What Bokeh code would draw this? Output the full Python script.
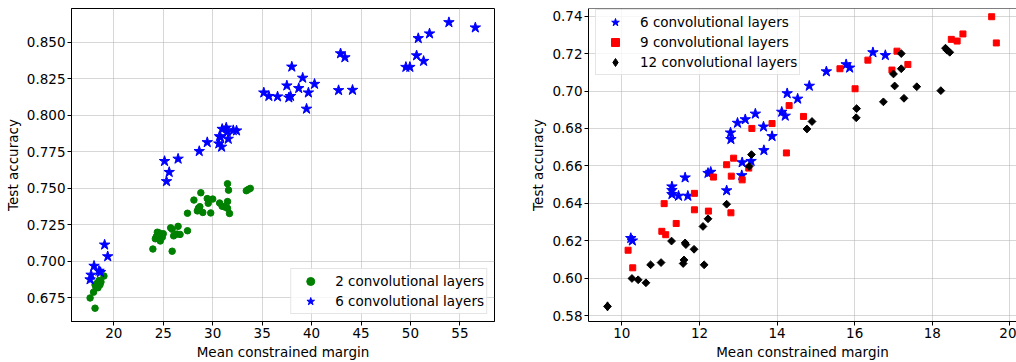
import numpy as np
from bokeh.plotting import figure
from bokeh.layouts import row
from bokeh.models import Range1d, FixedTicker, PrintfTickFormatter, Span
from bokeh.embed import file_html
from bokeh.resources import INLINE

# ---------------- data: left panel ----------------
l2_x = [17.6, 18.1, 17.95, 18.1, 18.2, 18.4, 18.6, 18.7, 19.0, 18.5, 18.3,
        23.95, 25.9, 24.2, 24.4, 24.55, 24.7, 24.9, 25.0, 25.75, 25.9, 26.05, 26.4, 26.5, 26.7, 27.45, 24.3, 24.6,
        27.45, 28.1, 28.8, 28.45, 28.55, 28.7, 29.0, 29.45, 29.55, 30.0, 29.8, 30.7, 30.95, 31.2, 31.5, 31.6,
        31.5, 31.5, 31.7, 33.4, 33.6, 33.8]
l2_y = [0.675, 0.668, 0.679, 0.684, 0.682, 0.682, 0.684, 0.686, 0.690, 0.687, 0.685,
        0.7085, 0.707, 0.7155, 0.720, 0.7175, 0.714, 0.7165, 0.719, 0.723, 0.722, 0.7175, 0.7187, 0.724, 0.7185, 0.721, 0.717, 0.7195,
        0.733, 0.742, 0.747, 0.7346, 0.7364, 0.7375, 0.7335, 0.743, 0.7398, 0.7427, 0.7332, 0.740, 0.7378, 0.7373, 0.7532, 0.7488,
        0.741, 0.7364, 0.7328, 0.7484, 0.7493, 0.750]

l6_x = [17.6, 17.7, 18.0, 18.5, 18.65, 19.07, 19.38, 25.13, 25.6, 25.33, 26.5, 28.64, 29.45, 30.62, 30.69, 30.79,
        30.96, 31.37, 31.47, 30.9, 31.57, 32.08, 32.41, 35.17, 35.68, 36.56, 37.5, 37.7, 37.87, 38.0, 38.7, 39.1,
        39.49, 39.68, 40.3, 42.73, 44.14, 42.93, 43.37, 49.54, 49.94, 50.62, 51.33, 50.79, 51.93, 53.89, 56.56]
l6_y = [0.6876, 0.6908, 0.6969, 0.6935, 0.6926, 0.7114, 0.7034, 0.7686, 0.7611, 0.7548, 0.7702, 0.7754, 0.7815, 0.7806, 0.7856, 0.7849,
        0.7906, 0.7915, 0.7886, 0.7784, 0.7838, 0.7897, 0.7895, 0.8155, 0.8131, 0.8128, 0.8203, 0.8121, 0.8131, 0.8332, 0.8185, 0.8256,
        0.8044, 0.8155, 0.8214, 0.8171, 0.8173, 0.8423, 0.8396, 0.8330, 0.8330, 0.8409, 0.8371, 0.8527, 0.8559, 0.8636, 0.8600]

# ---------------- data: right panel ----------------
r6_x = [10.23, 10.27, 11.29, 11.29, 11.29, 11.46, 11.70, 11.63, 12.22, 12.29, 12.70, 13.09, 13.10, 13.33, 12.80, 12.81,
        12.98, 13.18, 13.44, 13.65, 13.87, 13.66, 14.12, 14.21, 14.26, 14.53, 14.83, 15.27, 15.78, 15.87, 16.47, 16.79]
r6_y = [0.6213, 0.6200, 0.6489, 0.6470, 0.6448, 0.6439, 0.6439, 0.6537, 0.6561, 0.6567, 0.6468, 0.6549, 0.6618, 0.6625, 0.6777, 0.6742,
        0.6829, 0.6848, 0.6878, 0.6809, 0.6758, 0.6683, 0.6888, 0.6867, 0.6987, 0.6958, 0.7027, 0.7104, 0.7142, 0.7124, 0.7206, 0.7191]

r9_x = [10.16, 10.28, 11.03, 11.13, 11.40, 11.09, 11.87, 11.87, 12.23, 12.36, 12.82, 13.1, 12.81, 12.7, 12.88, 13.27,
        13.35, 13.87, 14.24, 14.31, 14.68, 15.62, 16.01, 16.34, 17.09, 16.96, 17.37, 18.49, 18.64, 18.79, 19.53, 19.65]
r9_y = [0.6149, 0.6055, 0.6250, 0.6232, 0.6292, 0.6398, 0.6453, 0.6365, 0.6358, 0.6540, 0.6545, 0.6525, 0.6349, 0.6606, 0.6641, 0.6588,
        0.6800, 0.6826, 0.6669, 0.6922, 0.6864, 0.7119, 0.7012, 0.7165, 0.7213, 0.7112, 0.7142, 0.7276, 0.7267, 0.7305, 0.7397, 0.7257]

r12_x = [9.63, 10.26, 10.42, 10.62, 10.74, 11.01, 11.28, 11.63, 11.65, 11.86, 11.6, 11.58, 12.12, 12.09, 12.22, 12.70,
         13.28, 13.34, 14.77, 14.9, 16.05, 16.04, 16.74, 17.0, 17.03, 17.2, 17.2, 17.27, 17.6, 18.22, 18.34, 18.38, 18.45]
r12_y = [0.5849, 0.5998, 0.5991, 0.5975, 0.6071, 0.6083, 0.6198, 0.6188, 0.6179, 0.6154, 0.6097, 0.6078, 0.6071, 0.6276, 0.6317, 0.6395,
         0.6597, 0.6660, 0.6797, 0.6837, 0.6906, 0.6857, 0.6942, 0.7091, 0.7027, 0.7200, 0.7119, 0.6961, 0.7023, 0.7002, 0.7229, 0.7218, 0.7207]

left_xticks = [20, 25, 30, 35, 40, 45, 50, 55]
left_yticks = [0.675, 0.700, 0.725, 0.750, 0.775, 0.800, 0.825, 0.850]
right_xticks = [10, 12, 14, 16, 18, 20]
right_yticks = [0.58, 0.60, 0.62, 0.64, 0.66, 0.68, 0.70, 0.72, 0.74]

FONT = "DejaVu Sans"
FS = "13.5px"


def style(p, xt, yt, yfmt):
    p.xaxis.ticker = FixedTicker(ticks=xt)
    p.yaxis.ticker = FixedTicker(ticks=yt)
    p.yaxis.formatter = PrintfTickFormatter(format=yfmt)
    p.xaxis.axis_label = "Mean constrained margin"
    p.yaxis.axis_label = "Test accuracy"
    for ax in (p.xaxis, p.yaxis):
        ax.axis_label_text_font = FONT
        ax.axis_label_text_font_size = FS
        ax.axis_label_text_font_style = "normal"
        ax.axis_label_text_color = "black"
        ax.major_label_text_font = FONT
        ax.major_label_text_font_size = FS
        ax.major_label_text_color = "black"
        ax.major_tick_out = 4
        ax.major_tick_in = 0
        ax.minor_tick_out = 0
        ax.minor_tick_in = 0
        ax.major_tick_line_color = "black"
        ax.axis_line_color = "black"
        ax.major_label_standoff = 2
        ax.axis_label_standoff = 3
    p.grid.grid_line_color = "#b0b0b0"
    p.grid.grid_line_alpha = 0.5
    p.grid.grid_line_width = 1
    p.background_fill_color = "white"
    p.border_fill_color = "white"


def style_legend(p, loc, margin):
    lg = p.legend[0]
    lg.location = loc
    lg.margin = margin
    lg.padding = 2
    lg.spacing = 0
    lg.label_height = 20
    lg.glyph_height = 20
    lg.glyph_width = 34
    lg.label_standoff = 8
    lg.label_text_font = FONT
    lg.label_text_font_size = FS
    lg.label_text_color = "black"
    lg.border_line_color = "#cccccc"
    lg.border_line_width = 1
    lg.background_fill_color = "white"
    lg.background_fill_alpha = 0.8


# ---------------- left figure ----------------
p1 = figure(width=510, height=362, output_backend="svg", toolbar_location=None, title=None,
            x_range=Range1d(15.72, 58.5), y_range=Range1d(0.6589, 0.8731),
            min_border_left=71, min_border_right=16, min_border_top=8, min_border_bottom=39)
style(p1, left_xticks, left_yticks, "%.3f")
p1.outline_line_color = "black"
p1.outline_line_alpha = 1
p1.scatter(l2_x, l2_y, marker="circle", size=6.5, color="green", legend_label="2 convolutional layers")
p1.scatter(l6_x, l6_y, marker="star", size=11, color="blue", legend_label="6 convolutional layers")
style_legend(p1, "bottom_right", 7)

# ---------------- right figure ----------------
p2 = figure(width=506, height=362, output_backend="svg", toolbar_location=None, title=None,
            x_range=Range1d(9.14, 20.17), y_range=Range1d(0.5768, 0.7441),
            min_border_left=78, min_border_right=0, min_border_top=8, min_border_bottom=39)
style(p2, right_xticks, right_yticks, "%.2f")
p2.outline_line_color = None
p2.add_layout(Span(location=p2.y_range.end, dimension="width", line_color="black", line_width=1))
p2.scatter(r6_x, r6_y, marker="star", size=11, color="blue", legend_label="6 convolutional layers")
p2.scatter(r9_x, r9_y, marker="square", size=6, color="red", legend_label="9 convolutional layers")
p2.scatter(r12_x, r12_y, marker="square", angle=np.pi / 4, size=5.5, color="black")
# legend proxy for the diamond series (drawn over its first point, hidden by it)
p2.scatter(r12_x[:1], r12_y[:1], marker="diamond", size=9, color="black",
           legend_label="12 convolutional layers")
style_legend(p2, (7, 246), 0)

layout = row(p1, p2)
open("out.html", "w").write(file_html(layout, INLINE))
